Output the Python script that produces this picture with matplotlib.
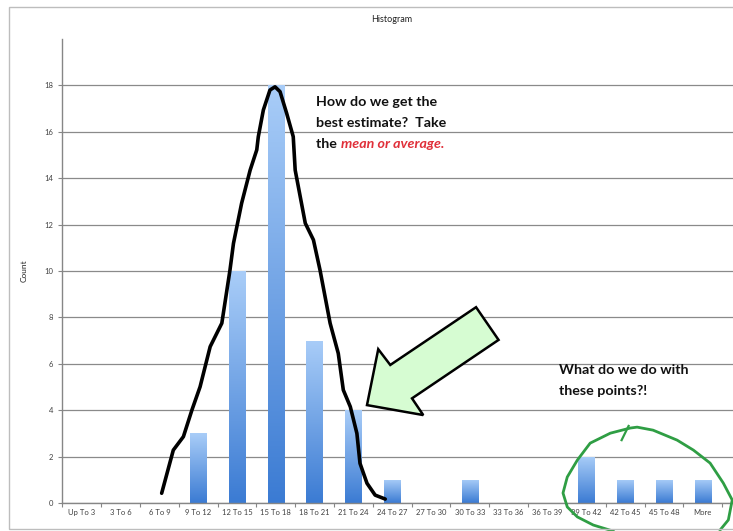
import numpy as np
import matplotlib
matplotlib.use('Agg')
import matplotlib.pyplot as plt
from matplotlib.patches import Rectangle, Polygon

plt.rcParams['font.family'] = ['Lato', 'DejaVu Sans']

# histogram bins and counts
bins = ['Up To 3', '3 To 6', '6 To 9', '9 To 12', '12 To 15', '15 To 18',
        '18 To 21', '21 To 24', '24 To 27', '27 To 30', '30 To 33', '33 To 36',
        '36 To 39', '39 To 42', '42 To 45', '45 To 48', 'More']
counts = [0, 0, 0, 3, 10, 18, 7, 4, 1, 0, 1, 0, 0, 2, 1, 1, 1]

# hand drawn bell outline (bin index, count)
bell_x = [2.06, 2.36, 2.62, 2.84, 3.05, 3.31, 3.61, 3.82, 3.91, 4.12, 4.34, 4.51,
          4.55, 4.68, 4.85, 4.98, 5.11, 5.28, 5.45, 5.50, 5.76, 5.97, 6.14, 6.40,
          6.61, 6.74, 6.92, 7.09, 7.17, 7.35, 7.56, 7.82]
bell_y = [0.42, 2.28, 2.86, 4.01, 5.01, 6.74, 7.75, 10.04, 11.19, 12.92, 14.35, 15.22,
          15.79, 16.94, 17.80, 17.94, 17.73, 16.80, 15.79, 14.35, 12.06, 11.34, 10.04, 7.75,
          6.45, 4.87, 4.15, 3.00, 1.71, 0.85, 0.34, 0.17]

# arrow outline
arrow_x = [7.35, 7.64, 7.95, 10.16, 10.74, 8.51, 8.80]
arrow_y = [4.22, 6.63, 5.95, 8.44, 7.03, 4.51, 3.79]

# loop around the outliers
loop_x = [13.69, 13.18, 12.77, 12.51, 12.40, 12.51, 12.77, 13.10, 13.62, 14.13, 14.31,
          14.72, 15.34, 15.76, 16.19, 16.53, 16.76, 16.66, 16.45]
loop_y = [-1.21, -0.95, -0.60, -0.17, 0.43, 1.12, 1.85, 2.58, 3.01, 3.23, 3.27,
          3.14, 2.71, 2.28, 1.72, 0.86, 0.13, -0.73, -1.16]
hook_x = [13.91, 14.09]
hook_y = [2.71, 3.32]

fig = plt.figure(figsize=(7.33, 5.31), dpi=100)
fig.patches.append(Rectangle((9 / 733, 2 / 531), 1.0, 522 / 531, transform=fig.transFigure,
                             fill=False, edgecolor='#bdbdbd', lw=1.0))

ax = fig.add_axes([62.3 / 733, 28 / 531, 1 - 62.3 / 733, 464 / 531])

x = np.arange(len(bins))
bars = ax.bar(x, counts, width=0.42, color='none', edgecolor='none', zorder=2)

# vertical gradient fill for each bar
grad = np.linspace(0, 1, 256).reshape(-1, 1)
cmap = matplotlib.colors.LinearSegmentedColormap.from_list('bar', ['#3b7bd3', '#a9cdf8'])
for b in bars:
    if b.get_height() == 0:
        continue
    x0, w, h = b.get_x(), b.get_width(), b.get_height()
    im = ax.imshow(grad, extent=(x0, x0 + w, 0, h), origin='lower', cmap=cmap,
                   aspect='auto', zorder=2)
    im.set_clip_path(b)
ax.set_xlim(-0.5, 16.78)
ax.set_ylim(0, 20)

ax.set_yticks(np.arange(0, 20, 2))
ax.yaxis.grid(True, color='#8a8a8a', lw=0.9)
ax.set_axisbelow(True)

ax.set_xticks(np.arange(-0.5, 17, 1))
ax.set_xticklabels([])
ax.set_xticks(x, minor=True)
ax.set_xticklabels(bins, minor=True)
ax.tick_params(axis='x', which='major', length=3, color='#868686', direction='out')
ax.tick_params(axis='x', which='minor', length=0, pad=4, labelsize=5.5, labelcolor='#404040')
ax.tick_params(axis='y', length=3, color='#868686', labelsize=5.5, labelcolor='#404040')

for s in ['top', 'right']:
    ax.spines[s].set_visible(False)
for s in ['left', 'bottom']:
    ax.spines[s].set_color('#868686')
    ax.spines[s].set_linewidth(1.0)

fig.text(392 / 733, 1 - 20 / 531, 'Histogram', ha='center', va='center',
         fontsize=6.5, color='#222222')
ax.set_ylabel('Count', fontsize=6, color='#222222', labelpad=12)

# annotations
ax.plot(bell_x, bell_y, color='black', lw=2.6, solid_capstyle='round',
        solid_joinstyle='round', zorder=4, clip_on=False)
ax.add_patch(Polygon(np.column_stack([arrow_x, arrow_y]), closed=True,
                     facecolor='#d6fcd2', edgecolor='black', lw=1.8, zorder=5))
ax.plot(loop_x, loop_y, color='#2f9e44', lw=2.0, solid_joinstyle='round',
        zorder=6, clip_on=False)
ax.plot(hook_x, hook_y, color='#2f9e44', lw=1.6, zorder=6, clip_on=False)

txt = dict(fontsize=10.3, fontweight='bold', color='#111111', va='center', ha='left')
ax.text(6.04, 17.28, 'How do we get the', **txt)
ax.text(6.04, 16.38, 'best estimate?  Take', **txt)
t_the = ax.text(6.04, 15.47, 'the ', **txt)
ax.annotate('mean or average.', xy=(1, 0), xycoords=t_the, va='bottom', ha='left',
            fontsize=10.3, fontweight='bold', fontstyle='italic', color='#e0303a')
ax.text(12.30, 5.73, 'What do we do with', **txt)
ax.text(12.30, 4.83, 'these points?!', **txt)

fig.savefig('out.png', dpi=100)
